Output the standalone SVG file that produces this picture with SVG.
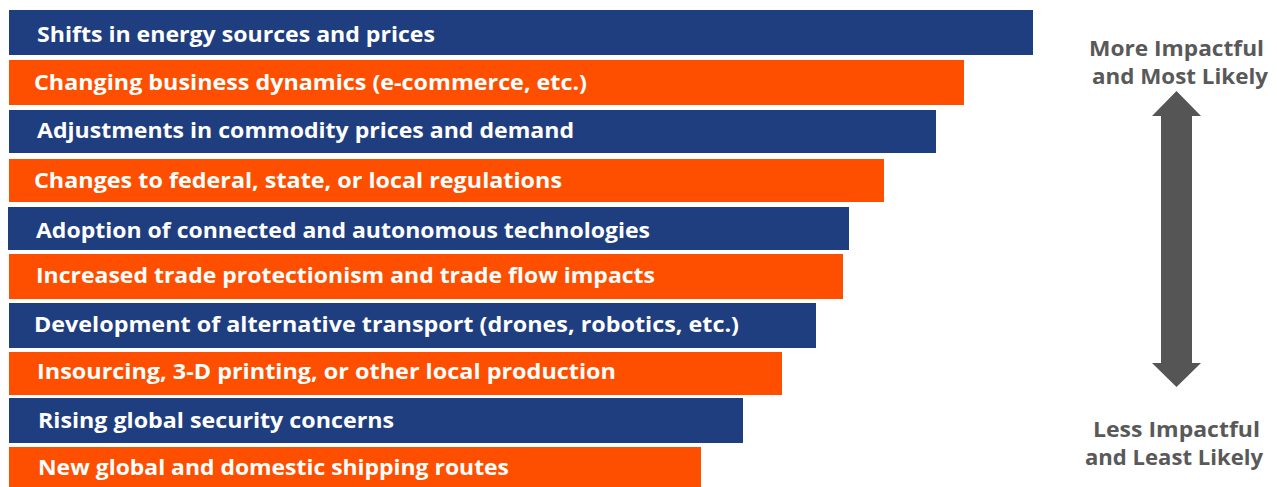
<svg xmlns="http://www.w3.org/2000/svg" width="1277" height="487" viewBox="0 0 1277 487">
<style>
.navy{fill:#1F3E7F}
.orange{fill:#FE4F00}
.lbl{font-family:"Open Sans","Liberation Sans",sans-serif;font-weight:bold;font-size:21.5px;fill:#FFFFFF}
.side{font-family:"Open Sans","Liberation Sans",sans-serif;font-weight:bold;font-size:20.5px;fill:#595959}
</style>
<rect width="1277" height="487" fill="#FFFFFF"/>
<g id="bar1"><rect class="navy" x="9" y="10" width="1024" height="45"/><text class="lbl" x="37" y="41.5" textLength="398" lengthAdjust="spacingAndGlyphs">Shifts in energy sources and prices</text></g>
<g id="bar2"><rect class="orange" x="9" y="60" width="955" height="45"/><text class="lbl" x="34" y="90" textLength="553" lengthAdjust="spacingAndGlyphs">Changing business dynamics (e-commerce, etc.)</text></g>
<g id="bar3"><rect class="navy" x="9" y="110" width="927" height="43"/><text class="lbl" x="37" y="137.5" textLength="537" lengthAdjust="spacingAndGlyphs">Adjustments in commodity prices and demand</text></g>
<g id="bar4"><rect class="orange" x="9" y="159" width="875" height="43"/><text class="lbl" x="34" y="188" textLength="528" lengthAdjust="spacingAndGlyphs">Changes to federal, state, or local regulations</text></g>
<g id="bar5"><rect class="navy" x="8" y="207" width="841" height="43"/><text class="lbl" x="36" y="238" textLength="614" lengthAdjust="spacingAndGlyphs">Adoption of connected and autonomous technologies</text></g>
<g id="bar6"><rect class="orange" x="9" y="254" width="834" height="45"/><text class="lbl" x="36" y="283" textLength="619" lengthAdjust="spacingAndGlyphs">Increased trade protectionism and trade flow impacts</text></g>
<g id="bar7"><rect class="navy" x="9" y="303" width="807" height="45"/><text class="lbl" x="34" y="332" textLength="705" lengthAdjust="spacingAndGlyphs">Development of alternative transport (drones, robotics, etc.)</text></g>
<g id="bar8"><rect class="orange" x="9" y="352" width="773" height="43"/><text class="lbl" x="37" y="379" textLength="579" lengthAdjust="spacingAndGlyphs">Insourcing, 3-D printing, or other local production</text></g>
<g id="bar9"><rect class="navy" x="9" y="398" width="734" height="45"/><text class="lbl" x="38" y="428" textLength="356" lengthAdjust="spacingAndGlyphs">Rising global security concerns</text></g>
<g id="bar10"><rect class="orange" x="9" y="447" width="692" height="40"/><text class="lbl" x="38" y="475" textLength="471" lengthAdjust="spacingAndGlyphs">New global and domestic shipping routes</text></g>
<g id="scale">
<text class="side" x="1089" y="56" textLength="175" lengthAdjust="spacingAndGlyphs">More Impactful</text>
<text class="side" x="1092" y="84" textLength="176" lengthAdjust="spacingAndGlyphs">and Most Likely</text>
<polygon fill="#555555" points="1176.5,91 1201,116 1192,116 1192,363 1201,363 1176.5,387 1152,363 1161,363 1161,116 1152,116"/>
<text class="side" x="1093" y="437" textLength="167" lengthAdjust="spacingAndGlyphs">Less Impactful</text>
<text class="side" x="1085" y="465" textLength="178" lengthAdjust="spacingAndGlyphs">and Least Likely</text>
</g>
</svg>
